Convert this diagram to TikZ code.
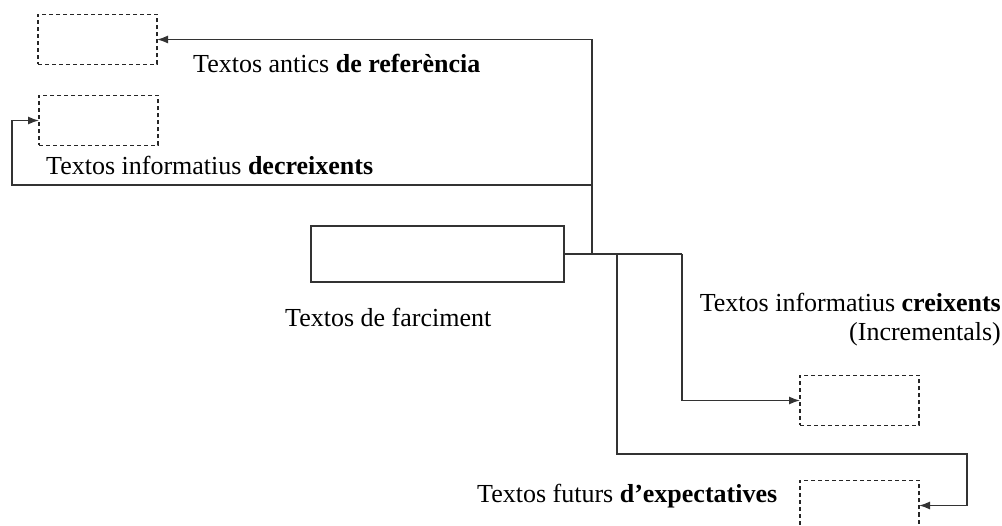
\documentclass[tikz,border=0pt]{standalone}
\usepackage{fontspec}
\setmainfont{Liberation Serif}
\usetikzlibrary{positioning,arrows.meta}

\begin{document}
\begin{tikzpicture}[x=1pt,y=-1pt,
  emptybox/.style={draw=black!85,dash pattern=on 4pt off 3pt,line width=1.3pt,minimum width=119pt,minimum height=50pt,inner sep=0pt,outer sep=0pt},
  conn/.style={draw=black!80,line width=1.4pt},
  tip/.style={-{Latex[length=11pt,width=8pt]}},
  label/.style={font=\fontsize{26}{31}\selectfont,anchor=base west,inner sep=0pt}]
\useasboundingbox (0,0) rectangle (1002,526);

\node[draw=black!80,line width=1.4pt,minimum width=253pt,minimum height=56pt,inner sep=0pt,outer sep=0pt] (farciment) at (437.5,254) {};
\node[emptybox] (antics) at (97.5,39.5) {};
\node[emptybox] (decreixents) [below=31pt of antics.south,anchor=north,xshift=1pt] {};
\node[emptybox] (creixents) at (859.5,400.5) {};
\node[emptybox] (expectatives) [below=55pt of creixents.south,anchor=north] {};

\node[label] (lantics) at (193,73) {Textos antics \textbf{de referència}};
\node[label] (ldecreixents) at (46,175) {Textos informatius \textbf{decreixents}};
\node[label] (lfarciment) at (285,327) {Textos de farciment};
\node[label,anchor=base east] (lcreixents) at (1001,312) {Textos informatius \textbf{creixents}};
\node[label,anchor=base east] (lincrementals) at (1001,341) {(Incrementals)};
\node[label] (lexpectatives) at (477,503) {Textos futurs \textbf{d’expectatives}};

\coordinate (nord) at (592,254);
\coordinate (sud) at (617,254);
\coordinate (est) at (682,254);
\coordinate (esquerra) at (12,185);
\coordinate (dreta) at (967,454);

\draw[conn] (farciment.east) -- (est);
\draw[conn,tip] (nord) |- (antics.east);
\draw[conn,tip] (nord |- esquerra) -- (esquerra) |- (decreixents.west);
\draw[conn,tip] (est) |- (creixents.west);
\draw[conn,tip] (sud) -- (sud |- dreta) -- (dreta) |- (expectatives.east);

\end{tikzpicture}
\end{document}
